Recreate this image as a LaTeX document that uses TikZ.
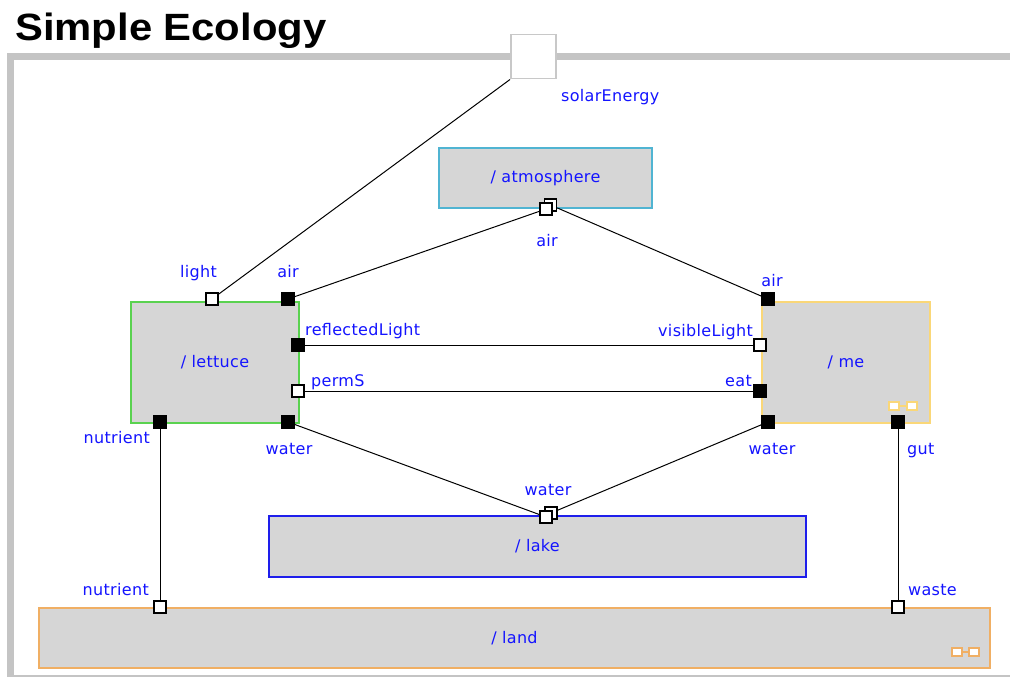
\documentclass[tikz,border=0pt]{standalone}
\usepackage{fontspec}
\usepackage{graphicx}
\setmainfont{DejaVu Sans}
\newfontfamily\lblfont[LetterSpace=2]{DejaVu Sans}
\newfontfamily\titlefont{Liberation Sans}
\definecolor{framegray}{RGB}{196,196,196}
\definecolor{boxfill}{RGB}{214,214,214}
\definecolor{lblblue}{RGB}{20,20,255}
\definecolor{atmcol}{RGB}{80,180,210}
\definecolor{letcol}{RGB}{90,210,80}
\definecolor{mecol}{RGB}{250,215,120}
\definecolor{lakecol}{RGB}{30,30,235}
\definecolor{landcol}{RGB}{240,175,100}
\definecolor{solcol}{RGB}{200,200,200}
\tikzset{
  box/.style={draw, fill=boxfill, line width=2pt, inner sep=0pt, anchor=north west,
    font=\lblfont\fontsize{16}{18}\selectfont, text=lblblue},
  portbox/.style={rectangle, draw=black, line width=1.5pt, minimum size=12pt, inner sep=0pt},
  bport/.style={portbox, fill=black},
  wport/.style={portbox, fill=white},
  lbl/.style={font=\lblfont\fontsize{16}{18}\selectfont, text=lblblue, inner sep=0pt},
  wire/.style={draw=black, line width=1pt},
  iconbox/.style={rectangle, fill=white, line width=2pt, minimum width=10pt, minimum height=8pt, inner sep=0pt}
}
\begin{document}
\begin{tikzpicture}[x=1pt,y=-1pt]
\useasboundingbox (0,0) rectangle (1010,677);
\fill[white] (0,0) rectangle (1010,677);
% frame
\draw[framegray, line width=2pt] (10,675.5) -- (1012,675.5);
\draw[framegray, line width=7pt] (10.5,678) -- (10.5,56.5) -- (1012,56.5);
% title
\node[anchor=base west, inner sep=0pt] (title) at (15,41)
  {\titlefont\bfseries\fontsize{38}{40}\selectfont\scalebox{1.1}[1]{Simple Ecology}};
% boxes
\node[box, draw=solcol, fill=white, line width=1.5pt, minimum width=45pt, minimum height=44pt] (solar) at (510,34) {};
\node[box, draw=atmcol, minimum width=213pt, minimum height=60pt] (atm) at (438,147) {/ atmosphere};
\node[box, draw=letcol, minimum width=168pt, minimum height=121pt] (lettuce) at (130,301) {/ lettuce};
\node[box, draw=mecol, minimum width=168pt, minimum height=121pt] (me) at (761,301) {/ me};
\node[box, draw=lakecol, minimum width=537pt, minimum height=61pt] (lake) at (268,515) {/ lake};
\node[box, draw=landcol, minimum width=951pt, minimum height=60pt] (land) at (38,607) {/ land};
% corner icons
\node[iconbox, draw=mecol] (meicA) at (893.5,406) {};
\node[iconbox, draw=mecol] (meicB) at (911.5,406) {};
\draw[mecol, line width=1.6pt] (meicA) -- (meicB);
\node[iconbox, draw=landcol] (laicA) at (956.5,652) {};
\node[iconbox, draw=landcol] (laicB) at (973.5,652) {};
\draw[landcol, line width=1.6pt] (laicA) -- (laicB);
% ports
\node[wport] (atmairB) at (550.5,205) {};
\node[wport] (atmair) at (546,209) {};
\node[wport] (lakewaterB) at (551,513) {};
\node[wport] (lakewater) at (546,517) {};
\node[wport] (light) at (212,299) {};
\node[bport] (letair) at (288,299) {};
\node[bport] (refl) at (298,345) {};
\node[wport] (perms) at (298,391) {};
\node[bport] (letwater) at (288,422) {};
\node[bport] (letnut) at (160,422) {};
\node[bport] (meair) at (768,299) {};
\node[wport] (vis) at (760,345) {};
\node[bport] (eat) at (760,391) {};
\node[bport] (mewater) at (768,422) {};
\node[bport] (gut) at (898,422) {};
\node[wport] (landnut) at (160,607) {};
\node[wport] (waste) at (898,607) {};
% connectors
\draw[wire] (solar.south west) -- (light);
\draw[wire] (letair) -- (atmair);
\draw[wire] (atmairB) -- (meair);
\draw[wire] (refl) -- (vis);
\draw[wire] (perms) -- (eat);
\draw[wire] (letwater) -- (lakewater);
\draw[wire] (mewater) -- (lakewaterB);
\draw[wire] (letnut) -- (landnut);
\draw[wire] (gut) -- (waste);
% labels
\node[lbl, anchor=base west] (lsolar) at (561,101) {solarEnergy};
\node[lbl, anchor=base] (latmair) at (547,246) {air};
\node[lbl, anchor=base] (llight) at (198.5,277) {light};
\node[lbl, anchor=base] (lletair) at (288,277) {air};
\node[lbl, anchor=base west] (lrefl) at (305,335) {reflectedLight};
\node[lbl, anchor=base west] (lperms) at (311,386) {permS};
\node[lbl, anchor=base] (lletwater) at (289,454) {water};
\node[lbl, anchor=base east] (lletnut) at (150,443) {nutrient};
\node[lbl, anchor=base] (lmeair) at (772,286) {air};
\node[lbl, anchor=base east] (lvis) at (753,336) {visibleLight};
\node[lbl, anchor=base east] (leat) at (752,386) {eat};
\node[lbl, anchor=base] (lmewater) at (772,454) {water};
\node[lbl, anchor=base west] (lgut) at (907,454) {gut};
\node[lbl, anchor=base] (llakewater) at (548,495) {water};
\node[lbl, anchor=base east] (llandnut) at (149,595) {nutrient};
\node[lbl, anchor=base west] (lwaste) at (908,595) {waste};
\end{tikzpicture}
\end{document}
